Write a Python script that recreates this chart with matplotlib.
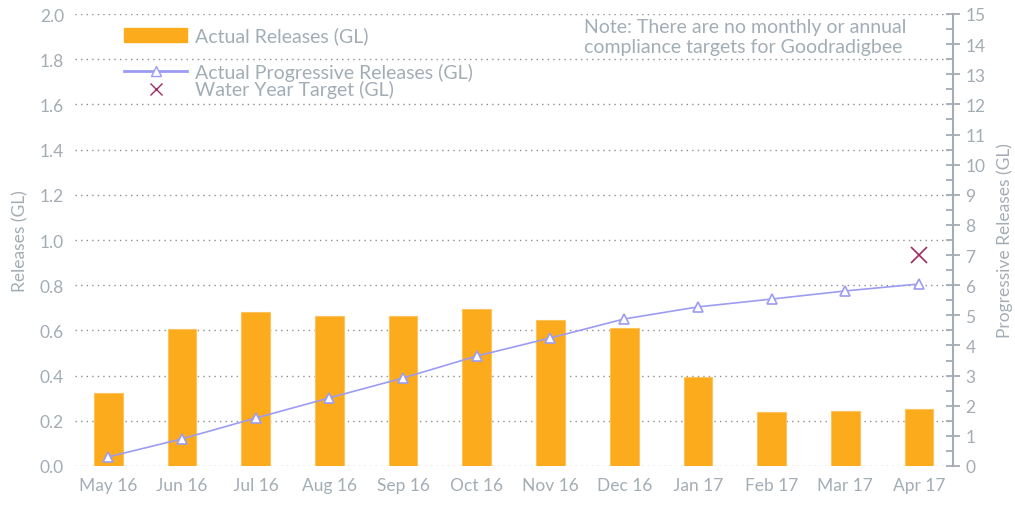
import matplotlib
matplotlib.use("Agg")
import matplotlib.pyplot as plt
from matplotlib.ticker import MultipleLocator
from matplotlib.lines import Line2D
from matplotlib.patches import Patch

months = ["May 16", "Jun 16", "Jul 16", "Aug 16", "Sep 16", "Oct 16",
          "Nov 16", "Dec 16", "Jan 17", "Feb 17", "Mar 17", "Apr 17"]
releases = [0.323, 0.606, 0.681, 0.664, 0.664, 0.695,
            0.646, 0.611, 0.394, 0.239, 0.243, 0.252]
progressive = [0.30, 0.90, 1.59, 2.26, 2.92, 3.65,
               4.25, 4.88, 5.28, 5.54, 5.81, 6.04]
target_month = 11
target_value = 7.0
note_lines = ["Note: There are no monthly or annual",
              "compliance targets for Goodradigbee"]

plt.rcParams['font.family'] = ['Lato', 'DejaVu Sans']
GRAY = "#a3adb5"
BAR = "#fbab1b"
LINE = "#9c9cf2"
TARGET = "#a02a62"

fig = plt.figure(figsize=(10.15, 5.06), dpi=100)
ax = fig.add_axes([75/1015, 1-467/506, (953-75)/1015, (467-15)/506])
x = list(range(len(months)))
ax.bar(x, releases, width=0.39, color=BAR, edgecolor="#fcc35e", linewidth=0.8, zorder=2)
ax.set_ylim(0, 2.0)
ax.set_xlim(-0.45, 11.46)
ax.set_yticks([i*0.2 for i in range(11)])
ax.set_yticklabels([f"{i*0.2:.1f}" for i in range(11)])
ax.grid(axis='y', linestyle=(0, (1, 3)), color="#8f8f8f", linewidth=1.0, zorder=0)
for s in ax.spines.values():
    s.set_visible(False)
ax.tick_params(axis='both', length=0, colors=GRAY, labelsize=12.5, pad=8)
ax.set_xticks(x)
ax.set_xticklabels(months)
ax.set_ylabel("Releases (GL)", color=GRAY, fontsize=12.5, labelpad=8)

ax2 = ax.twinx()
ax2.set_ylim(0, 15)
ax2.plot(x, progressive, color=LINE, linewidth=1.2, marker='^', markersize=7.5,
         markerfacecolor='white', markeredgecolor=LINE, markeredgewidth=1.2, zorder=3)
ax2.plot([target_month], [target_value], linestyle='none', marker='x',
         markersize=12, color=TARGET, markeredgewidth=1.2, zorder=3)
for k in ['top', 'left', 'bottom']:
    ax2.spines[k].set_visible(False)
ax2.spines['right'].set_color(GRAY)
ax2.spines['right'].set_linewidth(1.5)
ax2.yaxis.set_major_locator(MultipleLocator(1))
ax2.yaxis.set_minor_locator(MultipleLocator(0.5))
ax2.tick_params(axis='y', which='major', direction='inout', length=10, width=1.3,
                colors=GRAY, labelsize=12.5, pad=4)
ax2.tick_params(axis='y', which='minor', direction='in', length=5, width=1.3, colors=GRAY)
ax2.set_ylabel("Progressive Releases (GL)", color=GRAY, fontsize=12.5, labelpad=8)

LFS = 14
leg1 = ax.legend(handles=[Patch(facecolor=BAR, edgecolor=BAR)],
                 labels=["Actual Releases (GL)"], loc='upper left',
                 bbox_to_anchor=(0.036, 1.011), frameon=False, fontsize=LFS,
                 handlelength=3.25, handleheight=0.75, labelcolor=GRAY, handletextpad=0.4)
ax.add_artist(leg1)
h2 = [Line2D([], [], color=LINE, linewidth=2, marker='^', markersize=7,
             markerfacecolor='white', markeredgecolor=LINE),
      Line2D([], [], linestyle='none', marker='x', markersize=8, color=TARGET)]
ax.legend(handles=h2, labels=["Actual Progressive Releases (GL)", "Water Year Target (GL)"],
          loc='upper left', bbox_to_anchor=(0.036, 0.930), frameon=False, fontsize=LFS,
          handlelength=3.25, labelcolor=GRAY, handletextpad=0.4, labelspacing=-0.04)

fig.text(584/1015, 1-28/506, note_lines[0], color=GRAY, fontsize=14, va='center')
fig.text(584/1015, 1-47/506, note_lines[1], color=GRAY, fontsize=14, va='center')

fig.savefig("out.png", dpi=100)
